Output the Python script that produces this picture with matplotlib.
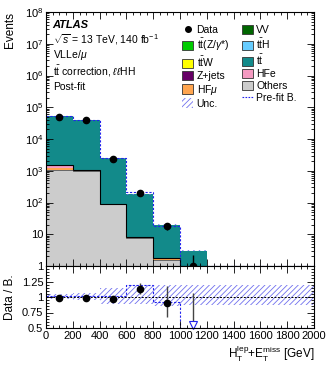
import numpy as np
import matplotlib
matplotlib.use("Agg")
import matplotlib.pyplot as plt
from matplotlib.patches import Patch
from matplotlib.lines import Line2D
from matplotlib.ticker import FixedLocator, MultipleLocator, FuncFormatter, LogLocator, NullFormatter

plt.rcParams['font.family'] = ['Liberation Sans', 'DejaVu Sans']
plt.rcParams['mathtext.fontset'] = 'custom'
plt.rcParams['mathtext.rm'] = 'Liberation Sans'
plt.rcParams['mathtext.it'] = 'Liberation Sans:italic'
plt.rcParams['mathtext.bf'] = 'Liberation Sans:bold'
plt.rcParams['hatch.linewidth'] = 0.6

# ---------------- data ----------------
edges = [0, 200, 400, 600, 800, 1000, 1200]
centers = [100, 300, 500, 700, 900, 1100]
total_postfit = [52000, 40000, 2450, 180, 20, 3.0]
others = [1040, 950, 87, 7.5, 1.6, 0.5]
hf_mu = [210, 60, 2.0, 0.2, 0.05, 0.01]
hf_e = [120, 12, 0.5, 0.05, 0.01, 0.01]
zjets = [110, 6, 0.3, 0.05, 0.01, 0.01]
ttw = [3, 2, 0.5, 0.1, 0.02, 0.01]
ttz = [2, 2, 0.4, 0.1, 0.02, 0.01]
vv = [2, 1, 0.2, 0.05, 0.01, 0.01]
tth = [1, 1, 0.2, 0.05, 0.01, 0.01]
data = [50500, 38500, 2380, 203, 18, 1]
data_err_up = [225, 196, 49, 15, 5.3, 1.3]
data_err_dn = [225, 196, 49, 14, 4.2, 0.8]

ratio_edges = [0, 200, 400, 600, 800, 1000, 1200, 1400, 1600, 1800, 2000]
unc_lo = [0.97, 0.95, 0.88, 0.89, 0.85, 0.87, 0.87, 0.87, 0.87, 0.87]
unc_hi = [1.05, 1.07, 1.15, 1.19, 1.19, 1.19, 1.19, 1.19, 1.19, 1.19]
prefit_ratio = [1.02, 1.02, 1.02, 1.19, 0.92, 0.0, 0.0, 0.0, 0.0, 0.0]
ratio_vals = [0.98, 0.98, 0.97, 1.13, 0.90]
ratio_err_up = [0.01, 0.01, 0.02, 0.09, 0.28]
ratio_err_dn = [0.01, 0.01, 0.02, 0.08, 0.22]
arrow_x = [1100]
arrow_top = [1.06]

colors = {
    'tt': '#128a8a', 'others': '#cccccc', 'hfmu': '#ffa54f', 'hfe': '#f49ac1',
    'zjets': '#660066', 'ttw': '#ffff00', 'ttz': '#00cc00', 'vv': '#006600', 'tth': '#66ccff'
}
unc_color = '#7070ee'
prefit_color = '#2222ee'

# ---------------- figure ----------------
W, H = 329, 367
fig = plt.figure(figsize=(W / 100, H / 100), dpi=100)
L, R = 46 / W, 314 / W
ax = fig.add_axes([L, 1 - 266 / H, R - L, (266 - 12) / H])
rax = fig.add_axes([L, 1 - 328 / H, R - L, (328 - 266) / H], sharex=ax)

edges_a = np.array(edges, float)
ymin = 1.0
components = [('others', others), ('hfmu', hf_mu), ('hfe', hf_e), ('zjets', zjets),
              ('ttw', ttw), ('ttz', ttz), ('vv', vv), ('tth', tth)]
base = np.full(len(centers), 1e-3)
for name, vals in components:
    top = base + np.array(vals, float)
    ax.stairs(top, edges_a, baseline=base, fill=True, color=colors[name], lw=0)
    if name == 'others':
        ax.stairs(top, edges_a, baseline=base, fill=False, color='#555555', lw=0.6)
    base = top
nontt_top = base.copy()
tot = np.array(total_postfit, float)
ax.stairs(tot, edges_a, baseline=nontt_top, fill=True, color=colors['tt'], lw=0)
ax.stairs(nontt_top, edges_a, baseline=None, color='black', lw=0.8)

# uncertainty band main (narrow hatched band at stack top)
rel_lo = np.array(unc_lo[:6]); rel_hi = np.array(unc_hi[:6])
ax.stairs(tot * (1 + (rel_hi - 1) * 0.15), edges_a, baseline=tot * (1 - (1 - rel_lo) * 0.15),
          fill=True, facecolor='none', edgecolor=unc_color, hatch='//////', lw=0)
# pre-fit line main
pre_main = np.clip(tot * np.array(prefit_ratio[:6]), ymin, None)
pre_main = np.append(pre_main, np.full(4, ymin))
ax.stairs(pre_main, np.array(ratio_edges, float), baseline=None, color=prefit_color, ls=(0, (2, 1.5)), lw=0.8)

ax.errorbar(centers, data, yerr=[data_err_dn, data_err_up], fmt='none', ecolor='black',
            elinewidth=1.0, capsize=0, zorder=5)
ax.plot(centers, data, 'o', color='black', ms=4.5, zorder=6, clip_on=False)

ax.set_yscale('log')
ax.set_ylim(1, 1e8)
ax.set_xlim(0, 2000)

def logfmt(v, pos):
    n = int(round(np.log10(v)))
    if n == 0:
        return '1'
    if n == 1:
        return '10'
    return r'$10^{%d}$' % n

ax.yaxis.set_major_locator(LogLocator(base=10, numticks=20))
ax.yaxis.set_minor_locator(LogLocator(base=10, subs=np.arange(2, 10), numticks=20))
ax.yaxis.set_major_formatter(FuncFormatter(logfmt))
ax.yaxis.set_minor_formatter(NullFormatter())
ax.xaxis.set_major_locator(MultipleLocator(200))
ax.xaxis.set_minor_locator(MultipleLocator(50))
for a in (ax, rax):
    a.tick_params(which='both', direction='in', top=True, right=True, labelsize=8, pad=2)
    a.tick_params(which='major', length=5, width=0.6)
    a.tick_params(which='minor', length=2.5, width=0.6)
    for s in a.spines.values():
        s.set_linewidth(0.8)
ax.tick_params(labelbottom=False)
ax.set_ylabel('Events', fontsize=8.5, loc='top')
ax.yaxis.set_label_coords(-0.112, 1.0)

# texts
def fy(py):
    return 1 - (py - 12) / 254
ax.text(0.025, fy(25), 'ATLAS', transform=ax.transAxes, fontsize=8, fontweight='bold', style='italic', va='center')
ax.text(0.025, fy(40), r'$\sqrt{s}$ = 13 TeV, 140 fb$^{-1}$', transform=ax.transAxes, fontsize=7.5, va='center')
ax.text(0.025, fy(55), r'VLLe/$\mu$', transform=ax.transAxes, fontsize=7.5, va='center')
ax.text(0.025, fy(71.5), r't$\bar{\rm t}$ correction, $\ell\ell$HH', transform=ax.transAxes, fontsize=7.5, va='center')
ax.text(0.025, fy(87), 'Post-fit', transform=ax.transAxes, fontsize=7.5, va='center')

# legend
sw = dict(edgecolor='#333333', linewidth=0.6)
handles = [
    Line2D([], [], marker='o', color='black', ls='none', ms=4),
    Patch(facecolor=colors['ttz'], **sw),
    Patch(facecolor=colors['ttw'], **sw),
    Patch(facecolor=colors['zjets'], **sw),
    Patch(facecolor=colors['hfmu'], **sw),
    Patch(facecolor='none', edgecolor=unc_color, hatch='//////', lw=0),
    Patch(facecolor=colors['vv'], **sw),
    Patch(facecolor=colors['tth'], **sw),
    Patch(facecolor=colors['tt'], **sw),
    Patch(facecolor=colors['hfe'], **sw),
    Patch(facecolor=colors['others'], **sw),
    Line2D([], [], color=prefit_color, ls=(0, (1.5, 1.2)), lw=0.8),
]
labels = ['Data', r't$\bar{\rm t}$(Z/$\gamma$*)', r't$\bar{\rm t}$W', 'Z+jets', r'HF$\mu$', 'Unc.',
          'VV', r't$\bar{\rm t}$H', r't$\bar{\rm t}$', 'HFe', 'Others', 'Pre-fit B.']
ax.legend(handles, labels, ncol=2, frameon=False, fontsize=7.5, loc='upper left',
          bbox_to_anchor=(182 / W, 1 - 25 / H), bbox_transform=fig.transFigure,
          handlelength=1.1, handleheight=1.0, handletextpad=0.3, labelspacing=0.17, columnspacing=1.2,
          borderaxespad=0, borderpad=0)

# ---------------- ratio ----------------
redges = np.array(ratio_edges, float)
rax.stairs(np.array(unc_hi), redges, baseline=np.array(unc_lo), fill=True, facecolor='none',
           edgecolor=unc_color, hatch='//////', lw=0)
rax.stairs(np.clip(np.array(prefit_ratio), 0.5, None), redges, baseline=None, color=prefit_color,
           ls=(0, (2, 1.5)), lw=0.8)
rax.axhline(1.0, color='black', ls=(0, (2, 1.5)), lw=0.7)
rax.errorbar(centers[:5], ratio_vals, yerr=[ratio_err_dn, ratio_err_up], fmt='o', color='black',
             ecolor='#444444', ms=4.5, elinewidth=1.0, capsize=0, zorder=5)
rax.vlines(arrow_x, 0.56, arrow_top, color='#444444', lw=1.0)
rax.plot(arrow_x, [0.545], marker='v', ms=6, mfc='white', mec=prefit_color, mew=0.8, ls='none', clip_on=False)
rax.set_ylim(0.5, 1.5)
rax.yaxis.set_major_locator(FixedLocator([0.5, 0.75, 1.0, 1.25]))
rax.yaxis.set_major_formatter(FuncFormatter(lambda v, p: {0.5: '0.5', 0.75: '0.75', 1.0: '1', 1.25: '1.25'}.get(round(v, 2), '')))
rax.yaxis.set_minor_locator(MultipleLocator(0.05))
rax.set_ylabel('Data / B.', fontsize=8.5)
rax.yaxis.set_label_coords(-0.112, 0.5)
rax.set_xlabel(r'H$_{\rm T}^{\rm lep}$+E$_{\rm T}^{\rm miss}$ [GeV]', fontsize=8.5, loc='right', labelpad=2)
rax.set_xlim(0, 2000)

fig.savefig('out.png', dpi=100)
